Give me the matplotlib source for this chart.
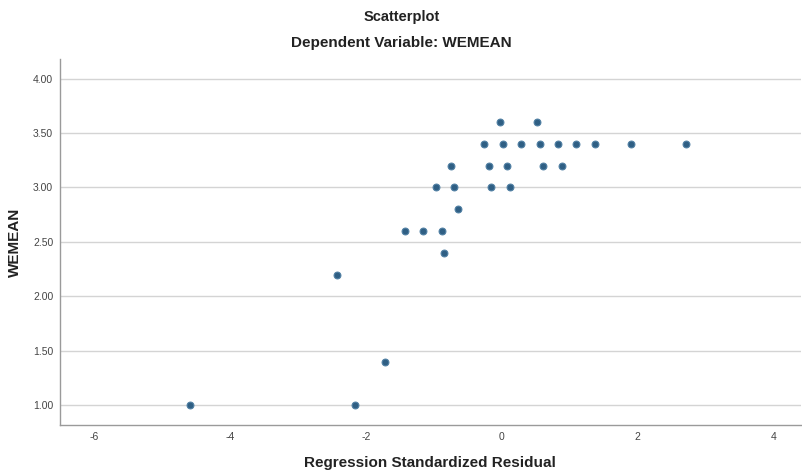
"""
SPSS style scatterplot: WEMEAN vs regression standardized residual
"""
import numpy as np
import matplotlib.pyplot as plt

plt.rcParams['font.family'] = ['Liberation Sans', 'DejaVu Sans']

# residuals, grouped by WEMEAN level
resid = [-0.03, 0.52,
         -0.26, 0.02, 0.29, 0.56, 0.83, 1.10, 1.37, 1.91, 2.72,
         -0.74, -0.19, 0.08, 0.61, 0.88,
         -0.97, -0.70, -0.16, 0.12,
         -0.65,
         -1.42, -1.16, -0.88,
         -0.85,
         -2.42,
         -1.72,
         -4.59, -2.16]
wemean = [3.6, 3.6,
          3.4, 3.4, 3.4, 3.4, 3.4, 3.4, 3.4, 3.4, 3.4,
          3.2, 3.2, 3.2, 3.2, 3.2,
          3.0, 3.0, 3.0, 3.0,
          2.8,
          2.6, 2.6, 2.6,
          2.4,
          2.2,
          1.4,
          1.0, 1.0]

xticks = [-6, -4, -2, 0, 2, 4]
yticks = [1.0, 1.5, 2.0, 2.5, 3.0, 3.5, 4.0]

fig = plt.figure(figsize=(8.03, 4.75), dpi=100)
ax = fig.add_axes([0.075, 0.105, 0.922, 0.771])

ax.scatter(resid, wemean, s=24, color='#2f5f84', edgecolors='#4f7fa3',
           linewidths=0.8, zorder=3)

ax.set_xlim(-6.5, 4.4)
ax.set_ylim(0.817, 4.18)
ax.set_xticks(xticks)
ax.set_xticklabels([str(t) for t in xticks])
ax.set_yticks(yticks)
ax.set_yticklabels([f'{t:.2f}' for t in yticks])
ax.tick_params(length=0, labelsize=7.5, colors='#444444', pad=5)

ax.yaxis.grid(True, color='#d4d4d4', linewidth=1)
ax.set_axisbelow(True)
for s in ['top', 'right']:
    ax.spines[s].set_visible(False)
for s in ['left', 'bottom']:
    ax.spines[s].set_color('#9a9a9a')
    ax.spines[s].set_linewidth(1)

ax.set_xlabel('Regression Standardized Residual', fontsize=11, fontweight='bold',
              color='#222222', labelpad=10)
ax.set_ylabel('WEMEAN', fontsize=11, fontweight='bold', color='#222222', labelpad=8)

fig.text(0.5, 0.964, 'Scatterplot', ha='center', va='center', fontsize=10.5,
         fontweight='bold', color='#222222')
fig.text(0.5, 0.909, 'Dependent Variable: WEMEAN', ha='center', va='center',
         fontsize=11, fontweight='bold', color='#222222')

fig.savefig('out.png', dpi=100)
